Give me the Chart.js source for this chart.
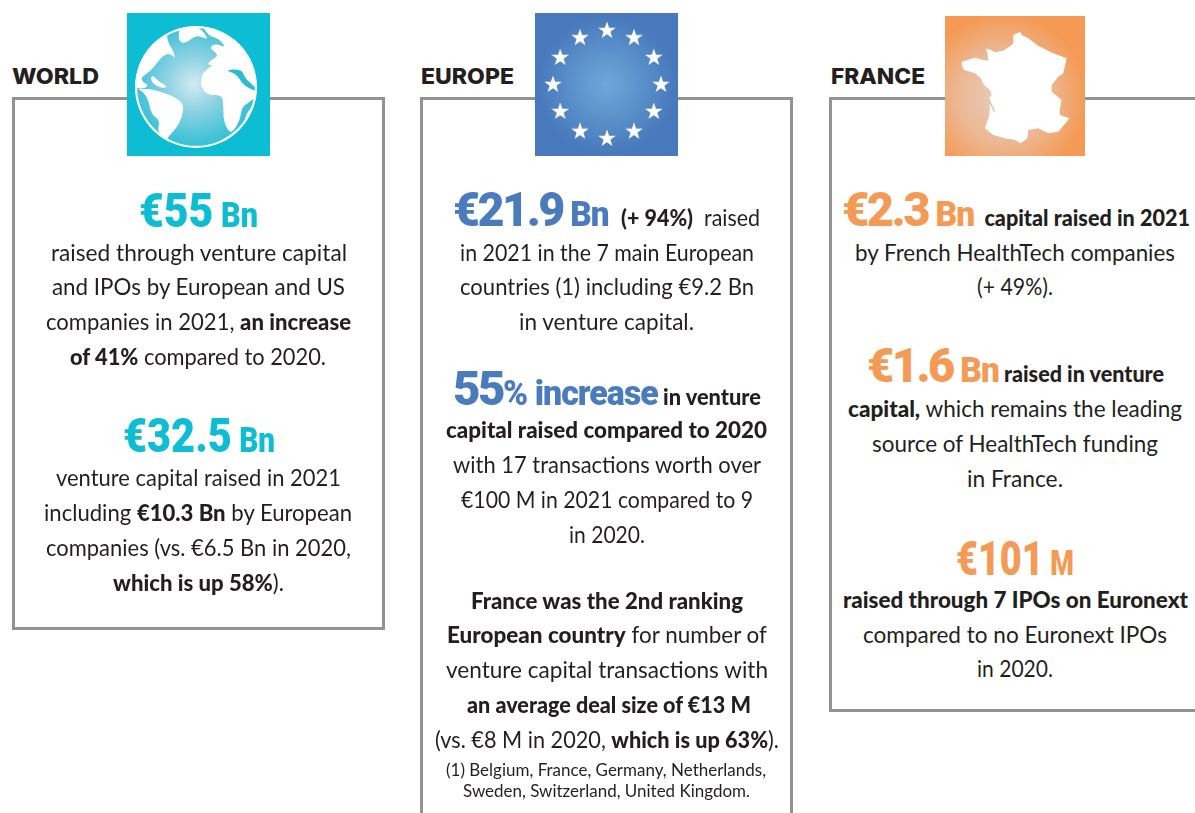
<!DOCTYPE html>
<html><head><meta charset="utf-8">
<script src="https://cdn.jsdelivr.net/npm/chart.js@4"></script>
<style>
html,body{margin:0;padding:0;background:#fff;width:1195px;height:813px;overflow:hidden}
body{position:relative;font-family:Lato,sans-serif;color:#231f20}
.frame{position:absolute;box-sizing:border-box;border:3px solid #939393}
.h{position:absolute;font-family:Inter,sans-serif;font-weight:800;font-size:22px;color:#231f20}
.l{position:absolute;line-height:0;white-space:pre;font-size:22.5px;font-weight:400;transform-origin:0 0;left:0}
.l:before{content:"";display:inline-block;height:100px;width:0}
.l b{font-weight:900}
.l u,.l s{text-decoration:none;font-family:Roboto,sans-serif;font-weight:900;color:var(--c)}
.l u{font-size:49px}
.l u.t{letter-spacing:-2.6px}
.l s{font-size:35px}
.l s.t{letter-spacing:-1px}
.l small{font-size:17.5px}
canvas{position:absolute;display:block}
svg{position:absolute;left:0;top:0}
</style></head><body>
<script>
/* ---------- content ---------- */
const panelTitles=['WORLD','EUROPE','FRANCE'];
const worldLines=[
'<u>€55</u><s> Bn</s>',
'raised through venture capital',
'and IPOs by European and US',
'companies in 2021, <b>an increase</b>',
'<b>of 41%</b> compared to 2020.',
'<u>€32.5</u><s> Bn</s>',
'venture capital raised in 2021',
'including <b>€10.3 Bn</b> by European',
'companies (vs. €6.5 Bn in 2020,',
'<b>which is up 58%</b>).'];
const europeLines=[
'<u class="t">€21.9</u><s class="t"> Bn </s><b> (+ 94%)</b>  raised',
'in 2021 in the 7 main European',
'countries (1) including €9.2 Bn',
'in venture capital.',
'<u class="t">55</u><s class="t">% increase</s><b> in venture</b>',
'<b>capital raised compared to 2020</b>',
'with 17 transactions worth over',
'€100 M in 2021 compared to 9',
'in 2020.',
'<b>France was the 2nd ranking</b>',
'<b>European country</b> for number of',
'venture capital transactions with',
'<b>an average deal size of €13 M</b>',
'(vs. €8 M in 2020, <b>which is up 63%</b>).',
'<small>(1) Belgium, France, Germany, Netherlands,</small>',
'<small>Sweden, Switzerland, United Kingdom.</small>'];
const franceLines=[
'<u class="t">€2.3</u><s class="t"> Bn</s><b>  capital raised in 2021</b>',
'by French HealthTech companies',
'(+ 49%).',
'<u class="t">€1.6</u><s class="t"> Bn</s><b> raised in venture</b>',
'<b>capital,</b> which remains the leading',
'source of HealthTech funding',
'in France.',
'<u>€101</u><s> M</s>',
'<b>raised through 7 IPOs on Euronext</b>',
'compared to no Euronext IPOs',
'in 2020.'];
/* ---------- values behind the icon charts ---------- */
const starLabels=['1','2','3','4','5','6','7','8','9','10','11','12'];
const starValues=[1,1,1,1,1,1,1,1,1,1,1,1];
const ringValues=[1];
/* ---------- layout, kept apart from the content ---------- */
const worldBase=[227,261,295,330,365,452,486,521,556,591];
const worldLeft=[139,51,52,46,70,123,56,44,46,113];
const worldRight=[258,347,345,351,326,275,341,352,351,284];
const europeBase=[226,261,295,330,405,438,473,508,543,609,643,678,713,748,776,797];
const europeLeft=[453,460,460,519,453,446,453,461,569,471,447,446,467,435,446,463];
const europeRight=[760,754,754,694,761,767,761,753,645,743,767,768,751,779,766,750];
const franceBase=[226,261,295,382,417,452,487,575,608,643,677];
const franceLeft=[842,855,977,867,848,872,967,956,843,863,977];
const franceRight=[1190,1175,1053,1164,1182,1158,1063,1074,1188,1167,1053];
const C=['#0cbdd3','#4a7bbd','#f49a54'];

function el(tag,cls,css){const e=document.createElement(tag);if(cls)e.className=cls;Object.assign(e.style,css||{});document.body.appendChild(e);return e}
function box(x,y,w,h,extra){return el('div','',Object.assign({position:'absolute',left:x+'px',top:y+'px',width:w+'px',height:h+'px'},extra||{}))}

el('div','frame',{left:'12px',top:'97px',width:'373px',height:'533px'});
el('div','frame',{left:'420px',top:'97px',width:'373px',height:'760px'});
el('div','frame',{left:'829px',top:'97px',width:'420px',height:'615px'});

box(127,13,143,143,{background:C[0]});
box(535,13,143,143,{background:'radial-gradient(circle at 50% 50%,#6ea9da 0%,#5d94cc 30%,#4879bc 68%)'});
box(945,16,140,140,{background:'radial-gradient(circle at 42% 58%,#e6cfc2 0%,#ecb893 40%,#f59a54 72%)'});
box(135.2,25.9,121.6,121.6,{borderRadius:'50%',background:'radial-gradient(circle at 48% 48%,#d2ebf2 0%,#8ed3e2 30%,#45c3d8 62%,#18bed4 92%)'});

/* continents and France outline are decoration */
const NS='http://www.w3.org/2000/svg';
const svg=document.createElementNS(NS,'svg');svg.setAttribute('width',1195);svg.setAttribute('height',813);
document.body.appendChild(svg);
function smooth(p){let d='';const n=p.length;for(let i=0;i<n;i++){const a=p[i],b=p[(i+1)%n],m=[(a[0]+b[0])/2,(a[1]+b[1])/2];d+=(i?'':'M'+((p[n-1][0]+a[0])/2)+' '+((p[n-1][1]+a[1])/2))+'Q'+a[0]+' '+a[1]+' '+m[0]+' '+m[1]}return d+'Z'}
const land=[
[[110,42],[115,70],[130,92],[136,116],[120,100],[100,105],[80,130],[60,155],[33,172],[38,186],[55,195],[45,205],[20,205],[0,200],[10,120],[60,50],[110,28]],
[[148,25],[145,55],[155,70],[175,65],[195,48],[215,50],[235,60],[218,30],[180,10]],
[[62,170],[72,168],[85,185],[112,198],[100,205],[78,197],[65,185]],
[[20,205],[45,207],[60,207],[110,220],[150,240],[162,262],[150,310],[115,352],[108,358],[82,335],[90,300],[65,285],[55,240],[40,215]],
[[222,28],[240,50],[265,55],[287,82],[270,75],[250,72],[240,85],[260,100],[262,110],[240,122],[233,135],[250,135],[230,147],[212,170],[215,205],[235,225],[275,225],[280,250],[280,300],[295,335],[310,335],[330,300],[335,265],[350,250],[395,222],[400,120],[300,20],[222,12]],
[[340,312],[350,280],[365,262],[374,238],[380,240],[362,285]]
];
const strip=[[283,150],[335,147],[345,175],[382,207],[382,216],[340,197],[320,162]];
const defs=document.createElementNS(NS,'defs');defs.innerHTML='<clipPath id="gc"><circle cx="195.7" cy="86.7" r="60"/></clipPath>';svg.appendChild(defs);
const g1=document.createElementNS(NS,'g');g1.setAttribute('clip-path','url(#gc)');svg.appendChild(g1);
const toG=a=>[130+a[0]/3,20+a[1]/3];
land.forEach(p=>{const q=document.createElementNS(NS,'path');q.setAttribute('d',smooth(p.map(toG)));q.setAttribute('fill','#fff');g1.appendChild(q)});
const sp=document.createElementNS(NS,'path');sp.setAttribute('d',smooth(strip.map(toG)));sp.setAttribute('fill','#2cbdd3');g1.appendChild(sp);
const fr=[[208,37],[190,45],[190,70],[185,75],[160,92],[135,97],[122,90],[108,85],[112,100],[115,122],[100,120],[75,113],[35,125],[35,135],[42,150],[75,160],[92,175],[102,195],[120,210],[125,225],[118,235],[120,250],[118,285],[105,325],[130,345],[165,355],[195,360],[212,370],[232,355],[235,330],[265,325],[295,340],[325,335],[350,305],[358,295],[330,285],[330,265],[335,240],[305,215],[305,195],[325,170],[340,160],[350,115],[310,100],[265,78],[235,55],[215,45],[212,37]];
const fp=document.createElementNS(NS,'polygon');fp.setAttribute('points',fr.map(a=>(950+a[0]/3)+','+(20+a[1]/3)).join(' '));fp.setAttribute('fill','#fff');svg.appendChild(fp);
const gi=document.createElementNS(NS,'line');gi.setAttribute('x1',950+118/3);gi.setAttribute('y1',20+240/3);gi.setAttribute('x2',950+133/3);gi.setAttribute('y2',20+275/3);gi.setAttribute('stroke','#eab89a');gi.setAttribute('stroke-width','1.2');svg.appendChild(gi);

/* Chart.js: ring of the globe */
const ringC=el('canvas','',{left:'135px',top:'25.7px'});ringC.width=122;ringC.height=122;
new Chart(ringC,{type:'doughnut',data:{labels:['globe'],datasets:[{data:ringValues,backgroundColor:'#fff',borderWidth:0}]},
options:{responsive:false,animation:false,cutout:'96.5%',plugins:{legend:{display:false},tooltip:{enabled:false}}}});

/* Chart.js: ring of European stars */
const star=document.createElement('canvas');star.width=18;star.height=18;
(function(){const c=star.getContext('2d');c.fillStyle='#fff';c.beginPath();
for(let i=0;i<10;i++){const r=i%2?3.6:9.2,a=-Math.PI/2+i*Math.PI/5;c[i?'lineTo':'moveTo'](9+r*Math.cos(a),9.6+r*Math.sin(a))}c.closePath();c.fill()})();
const starC=el('canvas','',{left:'536px',top:'13px'});starC.width=143;starC.height=143;
new Chart(starC,{type:'radar',data:{labels:starLabels,datasets:[{data:starValues,showLine:false,pointStyle:star,borderWidth:0,pointBorderWidth:0,fill:false}]},
options:{responsive:false,animation:false,layout:{padding:17},
scales:{r:{min:0,max:1,display:true,grid:{display:false},angleLines:{display:false},ticks:{display:false},pointLabels:{display:false}}},
plugins:{legend:{display:false},tooltip:{enabled:false}}}});

/* text */
[[12,99],[421,514],[831,925]].forEach((r,i)=>{const h=el('div','h',{left:r[0]+'px',top:'63px',transformOrigin:'0 0'});h.textContent=panelTitles[i];
 const w=h.getBoundingClientRect().width;h.style.transform='scaleX('+((r[1]-r[0])/w)+')'});
function place(lines,base,left,right,col){lines.forEach((t,i)=>{const d=el('div','l',{top:(base[i]-100)+'px'});d.style.setProperty('--c',col);d.innerHTML=t;
 const w=d.getBoundingClientRect().width;d.style.left=left[i]+'px';d.style.transform='scaleX('+((right[i]-left[i])/w)+')'})}
place(worldLines,worldBase,worldLeft,worldRight,C[0]);place(europeLines,europeBase,europeLeft,europeRight,C[1]);place(franceLines,franceBase,franceLeft,franceRight,C[2]);
</script>
</body></html>
